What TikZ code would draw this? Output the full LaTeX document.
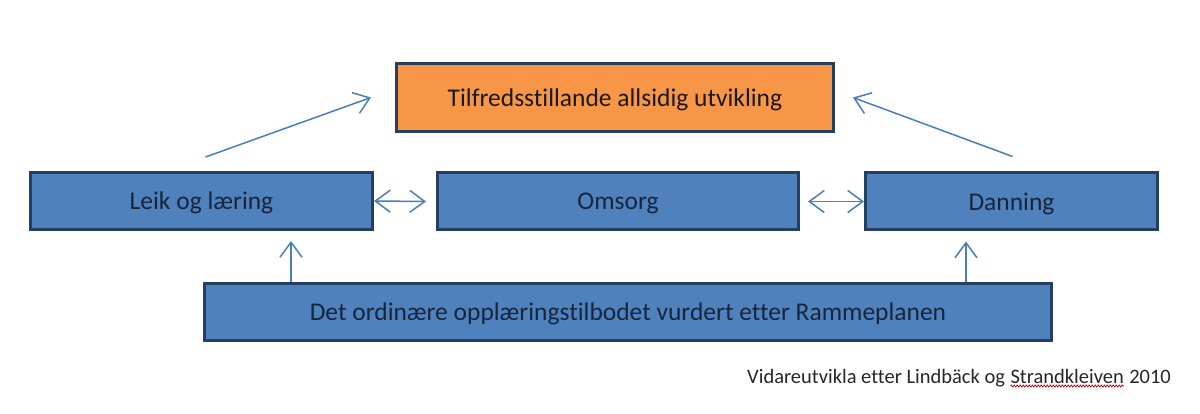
\documentclass[tikz,border=0pt]{standalone}
\usepackage{fontspec}
\setmainfont{Carlito}[Ligatures=NoCommon]
\usepackage{xcolor}
\usetikzlibrary{arrows.meta,positioning,decorations.pathmorphing}
\definecolor{boxblue}{HTML}{4F81BD}
\definecolor{boxorange}{HTML}{F79646}
\definecolor{boxline}{HTML}{243F60}
\definecolor{arrowblue}{HTML}{4A7EBB}
\definecolor{textnavy}{HTML}{17253D}
\tikzset{
    blue-box/.style = {draw=boxline, fill=boxblue, line width=3pt, rectangle, minimum height=57pt, text=textnavy, font=\fontsize{25.5}{30}\selectfont, inner sep=0pt, text depth=0pt},
    goal-box/.style = {blue-box, fill=boxorange, minimum height=68pt, text=black!90},
    link/.style = {draw=arrowblue, line width=1.5pt, -{Straight Barb[length=15pt, width=22pt, line width=1.5pt]}},
    twoway/.style = {draw=arrowblue, line width=1.5pt, {Straight Barb[length=15pt, width=22pt, line width=1.5pt]}-{Straight Barb[length=15pt, width=22pt, line width=1.5pt]}},
    caption/.style = {font=\fontsize{20.5}{24}\selectfont, text=black!85, inner sep=0pt, anchor=base west},
    spell/.style = {draw=red!70!black, line width=0.7pt, decorate, decoration={snake, amplitude=1pt, segment length=3pt}},
}

\begin{document}
\begin{tikzpicture}[x=1pt, y=-1pt]
\useasboundingbox (0,0) rectangle (1200,414);
% boxes
\node [goal-box, minimum width=437pt] (goal) at (615,97.5) {Tilfredsstillande allsidig utvikling};
\node [blue-box, minimum width=342pt] (leik) at (201.5,201) {Leik og læring};
\node [blue-box, minimum width=361pt] (omsorg) at (618,201.5) {Omsorg};
\node [blue-box, minimum width=292pt] (danning) at (1011.5,201.5) {Danning};
\node [blue-box, minimum width=847pt] (base) at (628,312) {Det ordinære opplæringstilbodet vurdert etter Rammeplanen};

% arrows
\draw [link] ([xshift=4pt, yshift=14pt]leik.north) -- ([xshift=-24pt]goal.west);
\draw [link] ([xshift=1pt, yshift=15pt]danning.north) -- ([xshift=18pt]goal.east);
\draw [twoway] (leik.east) -- ([xshift=-10pt]omsorg.west);
\draw [twoway] ([xshift=8pt]omsorg.east) -- (danning.west);
\draw [link] (base.north -| 291,0) -- ([yshift=-10pt]leik.south -| 291,0);
\draw [link] (base.north -| 966,0) -- ([yshift=-10pt]danning.south -| 966,0);

% source
\node [caption] (src) at (747,383) {Vidareutvikla etter Lindbäck og};
\node [caption] (strand) at ([xshift=5pt]src.base east) {Strandkleiven};
\node [caption] (year) at ([xshift=5pt]strand.base east) {2010};
\draw [spell] ([yshift=-3pt]strand.base west) -- ([yshift=-3pt]strand.base east);
\end{tikzpicture}
\end{document}
